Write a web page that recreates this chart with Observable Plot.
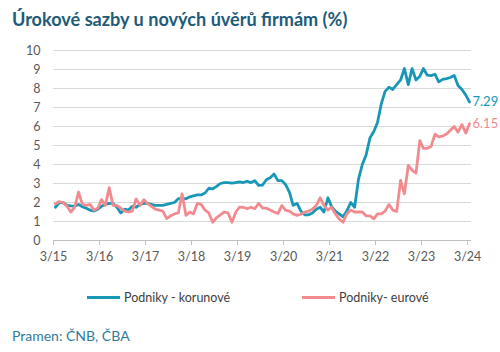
<!DOCTYPE html>
<html><head><meta charset="utf-8">
<script src="https://cdn.jsdelivr.net/npm/d3@7"></script>
<script src="https://cdn.jsdelivr.net/npm/@observablehq/plot@0.6"></script>
<style>
body{margin:0;background:#fff;font-family:Lato,"Open Sans",sans-serif;}
#wrap{position:relative;width:500px;height:352px;overflow:hidden;}
#title{position:absolute;left:12px;top:8px;font-size:18.1px;font-weight:bold;color:#1d5b79;white-space:nowrap;}
#chart{position:absolute;left:0;top:36px;}
.leg{position:absolute;top:290px;font-size:12.5px;color:#404040;white-space:nowrap;display:flex;align-items:center;}
.sw{display:inline-block;width:33px;height:3px;margin-right:4px;}
#source{position:absolute;left:12px;top:327px;font-size:14px;color:#2f7c99;white-space:nowrap;}
</style></head>
<body>
<div id="wrap">
  <div id="title">Úrokové sazby u nových úvěrů firmám (%)</div>
  <div id="chart"></div>
  <div class="leg" id="leg1" style="left:87px"></div>
  <div class="leg" id="leg2" style="left:302px"></div>
  <div id="source">Pramen: ČNB, ČBA</div>
</div>
<script>
// Monthly values, March 2015 – March 2024
const seriesNames = ["Podniky - korunové", "Podniky- eurové"];
const seriesColors = ["#1997b7", "#f28b90"];
const korunove = [
  1.75, 2.0, 2.0, 1.85, 1.82, 1.8, 1.9, 1.78, 1.7, 1.6,
  1.55, 1.65, 1.8, 1.9, 1.95, 1.95, 1.75, 1.45, 1.65, 1.6,
  1.8, 1.75, 1.9, 1.95, 1.95, 1.9, 1.85, 1.85, 1.85, 1.9,
  1.95, 2.0, 2.2, 2.2, 2.2, 2.3, 2.35, 2.4, 2.4, 2.5,
  2.75, 2.72, 2.85, 3.0, 3.05, 3.05, 3.02, 3.05, 3.08, 3.05,
  3.12, 3.05, 3.15, 2.9, 2.92, 3.2, 3.3, 3.5, 3.15, 3.15,
  2.95, 2.55, 1.85, 1.95, 1.55, 1.35, 1.35, 1.45, 1.65, 1.75,
  1.5, 2.25, 1.8, 1.55, 1.4, 1.25, 1.55, 2.0, 1.75, 3.2,
  4.0, 4.5, 5.4, 5.75, 6.2, 7.2, 7.85, 8.07, 7.95, 8.2,
  8.45, 9.05, 8.2, 9.05, 8.45, 8.65, 9.05, 8.7, 8.68, 8.75,
  8.35, 8.48, 8.52, 8.58, 8.68, 8.16, 7.95, 7.65, 7.29
];
const eurove = [
  1.93, 2.05, 2.0, 1.8, 1.5, 1.75, 2.55, 1.9, 1.85, 1.9,
  1.6, 1.7, 2.15, 1.85, 2.78, 1.85, 1.85, 1.7, 1.55, 1.5,
  1.55, 2.19, 1.85, 2.15, 1.95, 1.8, 1.65, 1.6, 1.55, 1.15,
  1.3, 1.4, 1.45, 2.46, 1.32, 1.5, 1.4, 1.95, 1.9, 1.6,
  1.45, 0.96, 1.2, 1.35, 1.5, 1.45, 0.96, 1.5, 1.75, 1.75,
  1.67, 1.75, 1.67, 1.95, 1.7, 1.7, 1.6, 1.5, 1.42, 1.84,
  1.6, 1.55, 1.4, 1.32, 1.38, 1.5, 1.55, 1.65, 1.85, 2.25,
  1.84, 1.6, 1.75, 1.4, 1.14, 0.96, 1.4, 1.6, 1.5, 1.5,
  1.5, 1.3, 1.3, 1.14, 1.4, 1.4, 1.55, 1.9, 1.6, 1.53,
  3.16, 2.46, 3.95, 3.7, 3.55, 5.26, 4.85, 4.85, 4.95, 5.6,
  5.45, 5.5, 5.6, 5.8, 6.0, 5.7, 6.1, 5.65, 6.15
];
const tickLabels = ["3/15","3/16","3/17","3/18","3/19","3/20","3/21","3/22","3/23","3/24"];
const yTicks = [0,1,2,3,4,5,6,7,8,9,10];

const startYear = 2015, startMonth = 2; // March (0-based)
const monthDate = i => new Date(Date.UTC(startYear, startMonth + i, 16));
const rows = [];
[korunove, eurove].forEach((arr, s) => arr.forEach((v, i) => rows.push({date: monthDate(i), value: v, series: seriesNames[s]})));
const lastRows = [korunove, eurove].map((arr, s) => ({date: monthDate(arr.length - 1), value: arr[arr.length - 1], series: seriesNames[s]}));
const tickDates = tickLabels.map((_, k) => new Date(Date.UTC(startYear + k, startMonth, 1)));
const labelOf = d => tickLabels[d.getUTCFullYear() - startYear];

const chart = Plot.plot({
  width: 500, height: 240,
  marginLeft: 53, marginRight: 29, marginTop: 14, marginBottom: 36,
  style: {fontFamily: "Lato, 'Open Sans', sans-serif", fontSize: "12.5px", background: "transparent"},
  x: {type: "utc", domain: [new Date(Date.UTC(2015, 2, 1)), new Date(Date.UTC(2024, 3, 1))]},
  y: {domain: [0, 10]},
  color: {domain: seriesNames, range: seriesColors},
  marks: [
    Plot.gridY(yTicks.filter(t => t > 0), {stroke: "#d9d9d9", strokeOpacity: 1}),
    Plot.ruleY([0], {stroke: "#bfbfbf"}),
    Plot.axisY({ticks: yTicks, tickSize: 0, tickPadding: 13, label: null, fill: "#595959", fontSize: 12.5}),
    Plot.axisX({ticks: tickDates, tickFormat: labelOf, tickSize: 5, tickPadding: 7, label: null, stroke: "#bfbfbf", fill: "#595959", fontSize: 12.5}),
    Plot.line(rows, {x: "date", y: "value", z: "series", stroke: "series", strokeWidth: 2.8, strokeLinejoin: "round"}),
    Plot.text(lastRows, {x: "date", y: "value", text: d => d.value.toFixed(2), fill: "series", dx: 3, textAnchor: "start", fontSize: 13})
  ]
});
document.getElementById("chart").appendChild(chart);

[["leg1", 0], ["leg2", 1]].forEach(([id, s]) => {
  const el = document.getElementById(id);
  el.innerHTML = `<span class="sw" style="background:${seriesColors[s]}"></span><span>${seriesNames[s]}</span>`;
});
</script>
</body></html>
